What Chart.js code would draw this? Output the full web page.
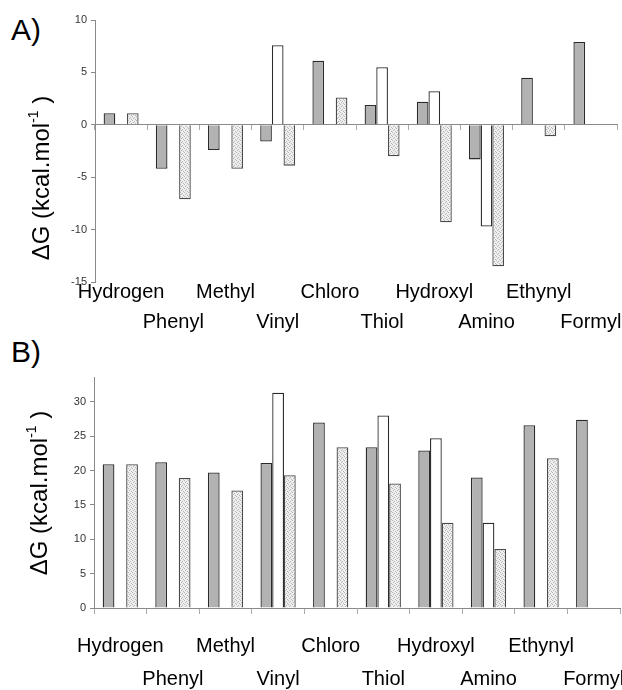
<!DOCTYPE html>
<html>
<head>
<meta charset="utf-8">
<script src="https://cdn.jsdelivr.net/npm/chart.js@4.4.0/dist/chart.umd.min.js"></script>
<style>
  body { margin: 0; background: #fff; width: 622px; height: 690px; position: relative; overflow: hidden; }
  .panel { position: absolute; left: 0; }
  .tag { position: absolute; left: 11px; font: 30px "Liberation Sans", Arial, sans-serif; line-height: 30px; color: #000; }
</style>
</head>
<body>
<div class="tag" style="top:15px">A)</div>
<div class="tag" style="top:337px">B)</div>
<canvas id="chartA" class="panel" style="top:0" width="622" height="340"></canvas>
<canvas id="chartB" class="panel" style="top:340px" width="622" height="350"></canvas>
<script>
const categories = ["Hydrogen", "Phenyl", "Methyl", "Vinyl", "Chloro", "Thiol", "Hydroxyl", "Amino", "Ethynyl", "Formyl"];

// panel A
const grayA = [1.1, -4.2, -2.4, -1.6, 6.1, 1.9, 2.2, -3.3, 4.5, 7.9];
const whiteA = [null, null, null, 7.6, null, 5.5, 3.2, -9.7, null, null];
const dottedA = [1.1, -7.1, -4.2, -3.9, 2.6, -3.0, -9.3, -13.5, -1.1, null];
const ticksA = [-15, -10, -5, 0, 5, 10];

// panel B
const grayB = [20.9, 21.2, 19.7, 21.1, 27.0, 23.4, 22.9, 19.0, 26.6, 27.4];
const whiteB = [null, null, null, 31.3, null, 28.0, 24.7, 12.4, null, null];
const dottedB = [20.9, 18.9, 17.1, 19.3, 23.4, 18.1, 12.4, 8.6, 21.8, null];
const ticksB = [0, 5, 10, 15, 20, 25, 30];

const FONT = '"Liberation Sans", Arial, sans-serif';

// staggered labels: even categories on the first row, odd ones on the second
const stagger = categories.map((c, i) => i % 2 === 0 ? [c, ""] : ["", c]);

function dotPattern() {
    const c = document.createElement("canvas");
    c.width = 4;
    c.height = 4;
    const g = c.getContext("2d");
    g.fillStyle = "#efefef";
    g.fillRect(0, 0, 4, 4);
    g.fillStyle = "#b5b5b5";
    [[0, 0], [2, 1], [1, 2], [3, 3]].forEach(p => g.fillRect(p[0], p[1], 1, 1));
    return g.createPattern(c, "repeat");
}

// y title with a real superscript
const yTitle = {
    id: "yTitle",
    afterDraw(chart, args, opts) {
        const ctx = chart.ctx;
        const main = "\u0394G (kcal.mol";
        const sup = "-1";
        const end = " )";
        ctx.save();
        ctx.translate(opts.x, opts.y);
        ctx.rotate(-Math.PI / 2);
        ctx.fillStyle = "#000";
        ctx.textBaseline = "middle";
        ctx.textAlign = "left";
        ctx.font = "24px " + FONT;
        const w1 = ctx.measureText(main).width;
        const w3 = ctx.measureText(end).width;
        ctx.font = "14px " + FONT;
        const w2 = ctx.measureText(sup).width;
        let x = -(w1 + w2 + w3) / 2;
        ctx.font = "24px " + FONT;
        ctx.fillText(main, x, 0);
        x += w1;
        ctx.font = "14px " + FONT;
        ctx.fillText(sup, x, -8);
        x += w2;
        ctx.font = "24px " + FONT;
        ctx.fillText(end, x, 0);
        ctx.restore();
    }
};

function makeChart(id, gray, white, dotted, yTicks, cfg) {
    const ctx = document.getElementById(id).getContext("2d");
    const barStyle = { barPercentage: 1, categoryPercentage: 0.67, borderWidth: 1.3 };
    return new Chart(ctx, {
        type: "bar",
        data: {
            labels: stagger,
            datasets: [
                Object.assign({ data: gray, backgroundColor: "#b2b2b2", borderColor: "#2a2a2a" }, barStyle),
                Object.assign({ data: white, backgroundColor: "#ffffff", borderColor: "#2a2a2a" }, barStyle),
                Object.assign({ data: dotted, backgroundColor: dotPattern(), borderColor: "#4a4a4a" }, barStyle),
            ],
        },
        plugins: [yTitle],
        options: {
            responsive: false,
            animation: false,
            devicePixelRatio: 1,
            layout: { padding: { left: 0, right: cfg.padRight, top: cfg.padTop, bottom: 0 } },
            plugins: {
                legend: { display: false },
                tooltip: { enabled: false },
                yTitle: { x: cfg.titleX, y: cfg.titleY },
            },
            scales: {
                x: {
                    grid: { display: false, drawTicks: false },
                    border: { display: false },
                    ticks: {
                        autoSkip: false,
                        maxRotation: 0,
                        minRotation: 0,
                        color: "#000",
                        padding: cfg.labelPad,
                        font: { family: FONT, size: 20, lineHeight: cfg.lineHeight },
                    },
                    afterFit: function (scale) {
                        scale.height = cfg.xHeight;
                        scale.paddingLeft = 0;
                        scale.paddingRight = 0;
                    },
                },
                // baseline at zero with the category tick marks
                x2: {
                    type: "category",
                    position: { y: 0 },
                    offset: true,
                    grid: { offset: true, drawOnChartArea: false, tickLength: 5, color: "#aaaaaa" },
                    border: { display: true, color: "#8a8a8a", width: 1 },
                    ticks: { display: false },
                },
                y: {
                    min: yTicks[0],
                    max: cfg.yMax,
                    afterBuildTicks: function (scale) {
                        scale.ticks = yTicks.map(v => ({ value: v }));
                    },
                    grid: { drawOnChartArea: false, tickLength: 4, color: "#8a8a8a" },
                    border: { display: true, color: "#8a8a8a", width: 1 },
                    ticks: {
                        color: "#333",
                        padding: 4,
                        font: { family: FONT, size: 11 },
                    },
                    afterFit: function (scale) {
                        scale.width = cfg.yWidth;
                    },
                },
            },
        },
    });
}

makeChart("chartA", grayA, whiteA, dottedA, ticksA, {
    yMax: 10, padTop: 20, padRight: 5, xHeight: 58, yWidth: 95,
    labelPad: -5, lineHeight: 1.5, titleX: 42, titleY: 178,
});

makeChart("chartB", grayB, whiteB, dottedB, ticksB, {
    yMax: 33.6, padTop: 37, padRight: 2, xHeight: 82, yWidth: 94,
    labelPad: 22, lineHeight: 1.65, titleX: 40, titleY: 153,
});
</script>
</body>
</html>
